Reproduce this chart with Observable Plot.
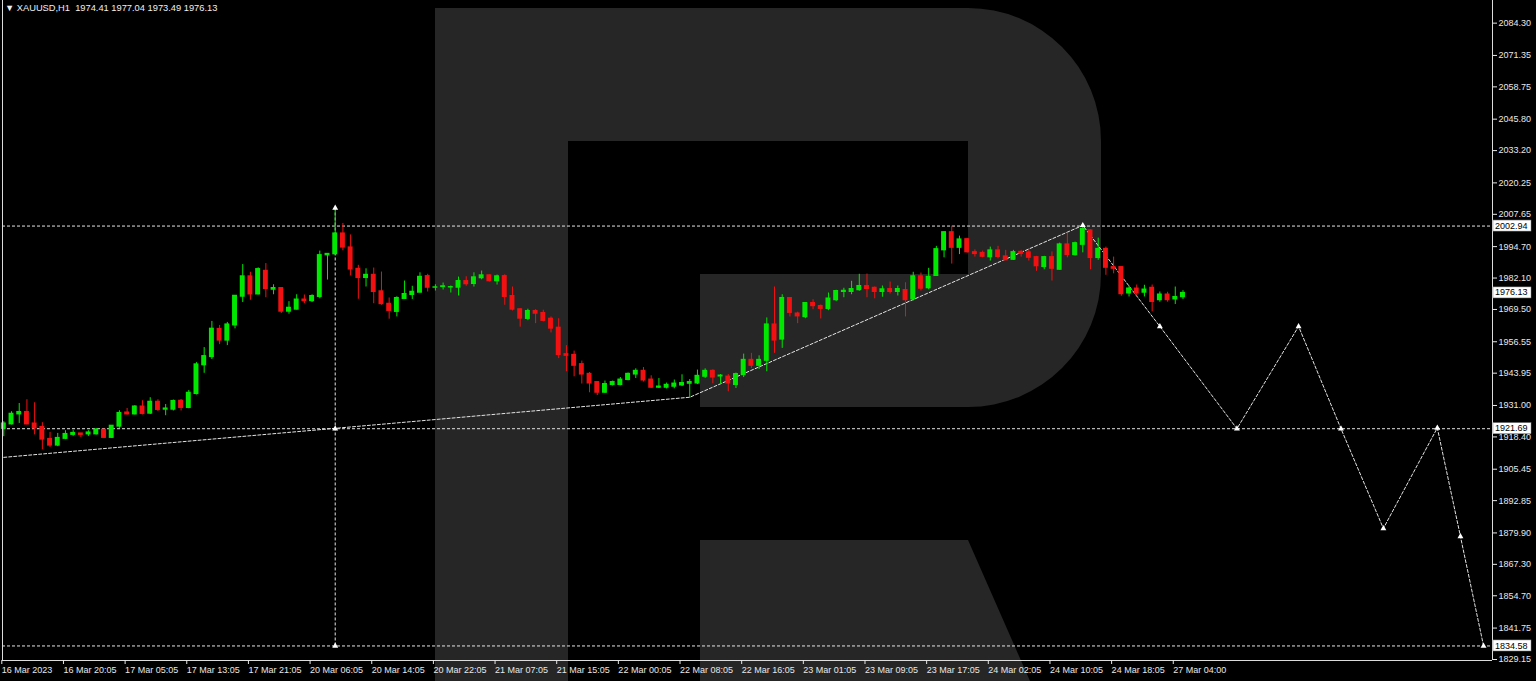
<!DOCTYPE html>
<html><head><meta charset="utf-8">
<script src="https://cdn.jsdelivr.net/npm/d3@7"></script>
<script src="https://cdn.jsdelivr.net/npm/@observablehq/plot@0.6"></script>
<style>
html,body{margin:0;padding:0;background:#000;overflow:hidden}
#wrap{position:relative;width:1536px;height:681px;background:#000}
#logo{position:absolute;left:0;top:0}
#chart{position:absolute;left:0;top:0}
#hdr{position:absolute;left:5px;top:3px;color:#f0f0f0;font:9.3px "Liberation Sans",Arial,sans-serif;white-space:pre}
</style></head><body>
<div id="wrap">
<svg id="logo" width="1536" height="681"><path fill="#262626" d="M435,8 H968 A133,133 0 0 1 1101,141 V274 A133,133 0 0 1 968,407 H700 V274 H968 V141 H568 V681 H435 Z M700,540 H968 L1030,681 H700 Z"/></svg>
<div id="chart"></div>
<div id="hdr"></div>
</div>
<script>
// ---- data (XAUUSD H1) ----
const open = [1921.6,1923.4,1927.4,1928.4,1923.8,1922.4,1917.6,1914.9,1917.6,1919.2,1919.8,1919.4,1919.4,1921.3,1918.0,1922.5,1928.2,1927.4,1930.6,1927.7,1932.5,1929.3,1929.3,1932.9,1930.0,1935.6,1947.1,1950.4,1961.7,1957.0,1963.1,1974.6,1982.8,1975.5,1985.0,1977.4,1978.1,1968.6,1969.4,1973.5,1972.8,1974.5,1991.2,1991.6,2000.0,1994.4,1985.8,1982.1,1983.4,1976.8,1971.8,1968.5,1973.7,1975.3,1976.2,1982.9,1978.2,1978.5,1978.3,1978.2,1980.9,1979.7,1982.0,1983.2,1980.8,1982.9,1974.9,1969.6,1965.7,1968.9,1968.1,1965.8,1962.2,1951.6,1951.3,1947.6,1943.7,1940.4,1936.1,1939.2,1939.2,1941.2,1943.4,1944.9,1941.4,1938.1,1938.1,1938.5,1939.0,1939.7,1939.8,1942.5,1944.9,1942.6,1942.6,1939.2,1943.2,1949.3,1946.9,1948.9,1963.5,1957.4,1974.1,1967.9,1966.4,1972.1,1970.9,1969.7,1973.2,1976.5,1976.5,1977.2,1978.9,1978.2,1976.5,1977.7,1976.5,1977.3,1973.5,1982.8,1978.0,1982.9,1993.2,2000.5,1994.2,1997.7,1992.5,1992.2,1990.4,1993.2,1990.8,1989.4,1992.6,1992.4,1990.5,1986.5,1990.5,1985.4,1995.6,1991.3,1995.4,2001.2,1990.1,1993.8,1986.5,1986.5,1975.9,1977.9,1976.2,1978.2,1973.2,1975.5,1973.5,1974.41];
const high = [1924.5,1928.5,1931.8,1933.3,1932.1,1924.1,1920.2,1919.8,1920.9,1920.9,1919.8,1920.9,1921.7,1921.3,1922.9,1928.9,1929.8,1930.9,1932.9,1934.1,1933.3,1931.4,1933.2,1933.4,1937.0,1948.2,1954.2,1964.7,1963.1,1964.3,1975.0,1987.5,1984.4,1986.2,1987.9,1979.4,1978.1,1972.6,1975.4,1975.3,1975.4,1992.9,1991.8,2010.2,2004.0,1999.4,1987.2,1985.8,1986.1,1984.5,1974.1,1974.6,1980.9,1978.8,1984.2,1983.6,1979.4,1980.1,1978.9,1982.5,1982.6,1984.2,1984.9,1983.4,1983.3,1983.4,1978.5,1969.8,1969.6,1969.4,1969.2,1966.5,1965.8,1955.0,1952.8,1948.8,1944.2,1940.6,1940.8,1940.8,1942.2,1944.0,1945.7,1946.2,1942.9,1941.8,1940.0,1941.2,1943.3,1941.4,1945.2,1945.7,1945.3,1943.4,1943.4,1944.0,1951.6,1951.9,1950.9,1966.1,1978.5,1975.4,1974.1,1968.4,1972.3,1973.4,1971.3,1976.1,1977.2,1978.0,1980.8,1983.6,1983.7,1978.5,1978.9,1980.5,1978.9,1980.2,1984.4,1984.1,1986.0,1994.8,2000.5,2002.9,1998.9,1998.0,1993.4,1992.9,1994.5,1994.8,1993.2,1993.2,1993.2,1993.2,1990.8,1990.8,1992.6,1996.1,2000.1,1996.5,2003.2,2001.4,1998.1,1994.5,1990.5,1986.5,1978.9,1979.3,1979.2,1979.3,1976.5,1976.4,1978.5,1977.04];
const low = [1918.5,1923.2,1923.8,1923.2,1919.2,1913.2,1914.1,1914.5,1917.3,1918.6,1918.1,1918.6,1919.2,1917.8,1917.8,1921.8,1927.2,1927.2,1927.2,1927.4,1928.5,1926.9,1928.8,1928.8,1929.7,1935.2,1943.9,1949.4,1955.4,1955.0,1961.7,1972.3,1973.2,1975.4,1974.2,1975.4,1967.9,1967.6,1969.3,1971.8,1972.3,1973.8,1981.3,1991.3,1993.0,1982.9,1973.6,1978.5,1971.8,1971.2,1965.6,1966.5,1973.5,1973.5,1976.2,1976.5,1976.9,1977.3,1976.1,1974.9,1978.8,1978.5,1981.4,1980.5,1979.3,1971.2,1968.9,1962.4,1965.0,1963.8,1964.5,1960.1,1949.8,1944.5,1942.5,1939.6,1936.1,1935.0,1935.8,1938.8,1938.9,1940.9,1941.8,1940.4,1937.8,1937.8,1937.6,1937.7,1938.6,1933.8,1939.4,1941.8,1939.7,1939.4,1936.5,1937.8,1942.2,1945.8,1945.4,1944.5,1951.9,1953.9,1966.5,1963.8,1965.8,1969.4,1965.7,1969.0,1972.6,1974.2,1975.4,1976.8,1974.2,1973.8,1974.4,1975.7,1974.9,1966.5,1972.9,1976.9,1977.4,1982.8,1990.2,1987.7,1991.5,1992.1,1990.5,1990.2,1988.9,1989.8,1989.2,1989.2,1990.5,1988.9,1984.8,1985.4,1980.9,1985.2,1990.2,1990.9,1992.2,1985.4,1989.2,1983.2,1983.8,1974.8,1974.5,1974.8,1974.5,1968.5,1972.4,1972.4,1971.5,1973.49];
const close = [1923.8,1927.7,1928.4,1923.4,1921.8,1917.3,1914.9,1918.0,1919.6,1920.0,1919.2,1920.2,1921.4,1918.0,1922.9,1928.0,1927.4,1930.6,1927.6,1932.5,1929.2,1929.8,1932.8,1930.0,1936.1,1947.5,1950.8,1961.8,1957.0,1963.5,1975.0,1982.8,1975.5,1985.7,1977.7,1978.1,1968.6,1970.2,1973.5,1972.8,1974.9,1991.3,1991.8,2000.0,1994.3,1985.5,1982.1,1983.4,1976.5,1971.6,1968.9,1974.1,1975.7,1976.6,1982.6,1978.2,1978.4,1978.8,1978.5,1980.9,1979.6,1982.4,1983.2,1980.8,1982.8,1974.5,1969.4,1965.8,1968.9,1967.8,1964.9,1961.8,1951.2,1950.9,1946.9,1943.4,1939.8,1936.1,1939.6,1940.4,1941.4,1943.7,1944.9,1941.0,1938.1,1938.6,1939.3,1939.8,1940.0,1940.4,1942.9,1944.9,1942.2,1943.0,1939.8,1943.6,1949.3,1946.9,1949.3,1963.5,1957.0,1974.1,1968.1,1966.7,1972.1,1970.8,1969.7,1973.9,1976.9,1977.0,1977.7,1978.9,1977.7,1976.5,1977.6,1976.5,1977.7,1973.2,1982.8,1977.8,1982.6,1993.7,2000.5,1994.2,1997.6,1992.4,1991.7,1990.6,1993.2,1990.5,1989.2,1992.5,1991.8,1990.2,1986.8,1990.5,1985.8,1995.6,1991.3,1996.1,2001.8,1990.1,1993.8,1986.2,1985.8,1975.6,1977.9,1975.9,1977.5,1972.5,1975.5,1973.2,1974.5,1976.13];

const xTickIdx = [0,8,16,24,32,40,48,56,64,72,80,88,96,104,112,120,128,136,144,152];
const xTickLabels = ["16 Mar 2023","16 Mar 20:05","17 Mar 05:05","17 Mar 13:05","17 Mar 21:05","20 Mar 06:05","20 Mar 14:05","20 Mar 22:05","21 Mar 07:05","21 Mar 15:05","22 Mar 00:05","22 Mar 08:05","22 Mar 16:05","23 Mar 01:05","23 Mar 09:05","23 Mar 17:05","24 Mar 02:05","24 Mar 10:05","24 Mar 18:05","27 Mar 04:00"];
const yTicks = [2084.30,2071.35,2058.75,2045.80,2033.20,2020.25,2007.65,1994.70,1982.10,1969.50,1956.55,1943.95,1931.00,1918.40,1905.45,1892.85,1879.90,1867.30,1854.70,1841.75,1829.15];
const levels = [2002.94,1921.69,1834.58];
const priceBoxes = [2002.94,1976.13,1921.69,1834.58];
const pathIdx = [0,89,140,150,160,168,173.5,179,186,189,192];
const pathPrice = [1910.2,1934.3,2003.2,1962.7,1921.69,1962.7,1921.69,1881.7,1922.0,1878.5,1834.58];
const markIdx = [140,150,160,168,173.5,179,186,189,192,43,43,43];
const markPrice = [2003.2,1962.7,1921.69,1962.7,1921.69,1881.7,1922.0,1878.5,1834.58,2010.2,1921.69,1834.58];
const vIdx = 43;
const xDomain = [-0.17,193.16];
const yDomain = [1828.75,2093.38];

const GREEN = "#00e800", RED = "#f21010", LINE = "#e4e4e4";
const candles = open.map((o,i)=>({i,o,h:high[i],l:low[i],c:close[i],col:close[i]>=o?GREEN:RED}));
const path = pathIdx.map((x,k)=>({x,y:pathPrice[k]}));
const marks = markIdx.map((x,k)=>({x,y:markPrice[k]}));

const chart = Plot.plot({
  width:1536, height:681,
  marginLeft:2, marginRight:44, marginTop:0, marginBottom:21,
  style:{background:"transparent", color:"#e8e8e8", fontFamily:"'Liberation Sans', Arial, sans-serif", fontSize:"9px"},
  x:{type:"linear", domain:xDomain},
  y:{type:"linear", domain:yDomain},
  color:{type:"identity"},
  marks:[
    Plot.ruleY(levels, {y:d=>d, stroke:LINE, strokeDasharray:"3,2"}),
    Plot.ruleX([vIdx], {x:d=>d, y1:levels[2], y2:high[vIdx], stroke:LINE, strokeDasharray:"3,2"}),
    Plot.line(path, {x:"x", y:"y", stroke:LINE, strokeDasharray:"3,2", strokeWidth:1}),
    Plot.ruleX(candles, {x:"i", y1:"l", y2:"h", stroke:"col", strokeWidth:1}),
    Plot.rect(candles, {x1:d=>d.i-0.32, x2:d=>d.i+0.32, y1:"o", y2:"c", fill:"col", insetTop:-0.5, insetBottom:-0.5}),
    Plot.dot(marks, {x:"x", y:"y", symbol:"triangle", r:2.2, fill:"#ffffff"}),
    Plot.ruleX([xDomain[0], xDomain[1]], {x:d=>d, stroke:"#dcdcdc"}),
    Plot.ruleY([yDomain[0]], {y:d=>d, stroke:"#dcdcdc"}),
    Plot.axisY({anchor:"right", ticks:yTicks, tickFormat:d=>d.toFixed(2), tickSize:4, tickPadding:2, label:null}),
    Plot.axisX({anchor:"bottom", ticks:xTickIdx, tickFormat:d=>xTickLabels[xTickIdx.indexOf(d)], tickSize:4, tickPadding:2, textAnchor:"start", dx:-2, label:null})
  ]
});
document.getElementById("chart").appendChild(chart);

// price boxes on the right axis, placed through the plot's scales
const ys = chart.scale("y"), xs = chart.scale("x");
const g = d3.select(chart).append("g").attr("text-anchor","start");
const x0 = xs.apply(xDomain[1]);
priceBoxes.forEach(v=>{
  const y = ys.apply(v);
  g.append("rect").attr("x", x0+1).attr("y", y-5.5).attr("width", 38).attr("height", 11)
    .attr("fill","#fff").attr("stroke","#888").attr("stroke-width",0.5);
  g.append("text").attr("x", x0+3).attr("y", y).attr("dy","0.34em").attr("text-anchor","start")
    .attr("fill","#000").attr("font-size","9px").text(v.toFixed(2));
});

const n = open.length-1;
document.getElementById("hdr").textContent =
  "\u25BC XAUUSD,H1  " + open[n].toFixed(2) + " " + high[n].toFixed(2) + " " + low[n].toFixed(2) + " " + close[n].toFixed(2);
</script>
</body></html>
